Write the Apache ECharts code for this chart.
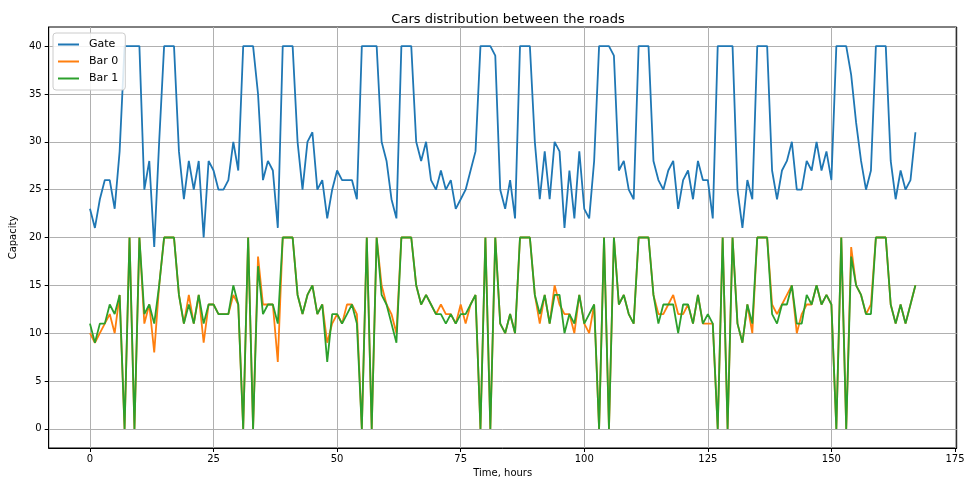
<!DOCTYPE html>
<html>
<head>
<meta charset="utf-8">
<script src="https://cdn.jsdelivr.net/npm/echarts@6/dist/echarts.min.js"></script>
<style>
  html, body { margin: 0; padding: 0; background: #fff; }
  #chart { width: 964px; height: 482px; }
</style>
</head>
<body>
<div id="chart"></div>
<script>
// Hourly capacity over one week (168 hours)
const gate = [23,21,24,26,26,23,29,40,40,40,40,25,28,19,30,40,40,40,29,24,28,25,28,20,28,27,25,25,26,30,27,40,40,40,35,26,28,27,21,40,40,40,30,25,30,31,25,26,22,25,27,26,26,26,24,40,40,40,40,30,28,24,22,40,40,40,30,28,30,26,25,27,25,26,23,24,25,27,29,40,40,40,39,25,23,26,22,40,40,40,30,24,29,24,30,29,21,27,22,29,23,22,28,40,40,40,39,27,28,25,24,40,40,40,28,26,25,27,28,23,26,27,24,28,26,26,22,40,40,40,40,25,21,26,24,40,40,40,27,24,27,28,30,25,25,28,27,30,27,29,26,40,40,40,37,32,28,25,27,40,40,40,28,24,27,25,26,31];
const bar0 = [10,9,10,11,12,10,14,0,20,0,20,11,13,8,15,20,20,20,14,11,14,11,14,9,13,13,12,12,12,14,13,0,20,0,18,13,13,13,7,20,20,20,14,12,14,15,12,13,9,11,12,11,13,13,12,0,20,0,20,15,13,12,10,20,20,20,15,13,14,13,12,13,12,12,11,13,11,13,14,0,20,0,20,11,10,12,10,20,20,20,14,11,14,11,15,13,12,12,10,14,11,10,13,0,20,0,20,13,14,12,11,20,20,20,14,12,12,13,14,12,12,13,11,14,11,11,11,0,20,0,20,11,9,13,10,20,20,20,13,12,13,14,15,10,12,13,13,15,13,14,13,0,20,0,19,15,14,12,13,20,20,20,13,11,13,11,13,15];
const bar1 = [11,9,11,11,13,12,14,0,20,0,20,12,13,11,15,20,20,20,14,11,13,11,14,11,13,13,12,12,12,15,13,0,20,0,17,12,13,13,11,20,20,20,14,12,14,15,12,13,7,12,12,11,12,13,11,0,20,0,20,14,13,11,9,20,20,20,15,13,14,13,12,12,11,12,11,12,12,13,14,0,20,0,20,11,10,12,10,20,20,20,14,12,14,11,14,14,10,12,11,14,11,12,13,0,20,0,20,13,14,12,11,20,20,20,14,11,13,13,13,10,13,13,11,14,11,12,11,0,20,0,20,11,9,13,11,20,20,20,12,11,13,13,15,11,11,14,13,15,13,14,13,0,20,0,18,15,14,12,12,20,20,20,13,11,13,11,13,15];
const hours = gate.map((_, i) => i);
const xTicks = [0, 25, 50, 75, 100, 125, 150, 175];
const yTicks = [0, 5, 10, 15, 20, 25, 30, 35, 40];

const font = 'DejaVu Sans';
const pairs = vals => hours.map((h, i) => [h, vals[i]]);

const chart = echarts.init(document.getElementById('chart'), null, { renderer: 'canvas' });
chart.setOption({
  animation: false,
  backgroundColor: '#fff',
  title: {
    text: 'Cars distribution between the roads',
    left: 503, top: 8, textAlign: 'center',
    textStyle: { fontFamily: font, fontSize: 13, fontWeight: 'normal', color: '#000' }
  },
  legend: {
    orient: 'vertical', left: 53, top: 33,
    backgroundColor: 'rgba(255,255,255,0.85)',
    borderColor: '#cccccc', borderWidth: 1, borderRadius: 3,
    padding: [6, 7, 6, 5], itemGap: 6, itemWidth: 21, itemHeight: 2,
    icon: 'rect',
    textStyle: { fontFamily: font, fontSize: 11, color: '#000', padding: [0, 0, 0, 5] },
    data: ['Gate', 'Bar 0', 'Bar 1']
  },
  grid: {
    left: 48.7, right: 7.3, top: 27, bottom: 34,
    containLabel: false, outerBoundsMode: 'none',
    show: true, borderColor: '#000', borderWidth: 1
  },
  xAxis: {
    type: 'value', min: -8.35, max: 175.35, minInterval: 25, maxInterval: 25,
    name: 'Time, hours', nameLocation: 'middle', nameGap: 18,
    nameTextStyle: { fontFamily: font, fontSize: 10, color: '#000' },
    axisLine: { show: true, onZero: false, lineStyle: { color: '#000', width: 1 } },
    axisTick: { show: true, length: 4, lineStyle: { color: '#000' }, customValues: xTicks },
    axisLabel: { fontFamily: font, fontSize: 10, color: '#000', margin: 6, showMinLabel: true, showMaxLabel: true, customValues: xTicks },
    splitLine: { show: true, lineStyle: { color: '#b0b0b0', width: 1 } }
  },
  yAxis: {
    type: 'value', min: -2, max: 42, minInterval: 5, maxInterval: 5,
    name: 'Capacity', nameLocation: 'middle', nameGap: 20, nameRotate: 90,
    nameTextStyle: { fontFamily: font, fontSize: 10, color: '#000' },
    axisLine: { show: true, onZero: false, lineStyle: { color: '#000', width: 1 } },
    axisTick: { show: true, length: 4, lineStyle: { color: '#000' }, customValues: yTicks },
    axisLabel: { fontFamily: font, fontSize: 10, color: '#000', margin: 7, showMinLabel: true, showMaxLabel: true, customValues: yTicks },
    splitLine: { show: true, lineStyle: { color: '#b0b0b0', width: 1 } }
  },
  series: [
    { name: 'Gate', type: 'line', data: pairs(gate), symbol: 'none', color: '#1f77b4', lineStyle: { width: 1.8 } },
    { name: 'Bar 0', type: 'line', data: pairs(bar0), symbol: 'none', color: '#ff7f0e', lineStyle: { width: 1.8 } },
    { name: 'Bar 1', type: 'line', data: pairs(bar1), symbol: 'none', color: '#2ca02c', lineStyle: { width: 1.8 } }
  ]
});
</script>
</body>
</html>
